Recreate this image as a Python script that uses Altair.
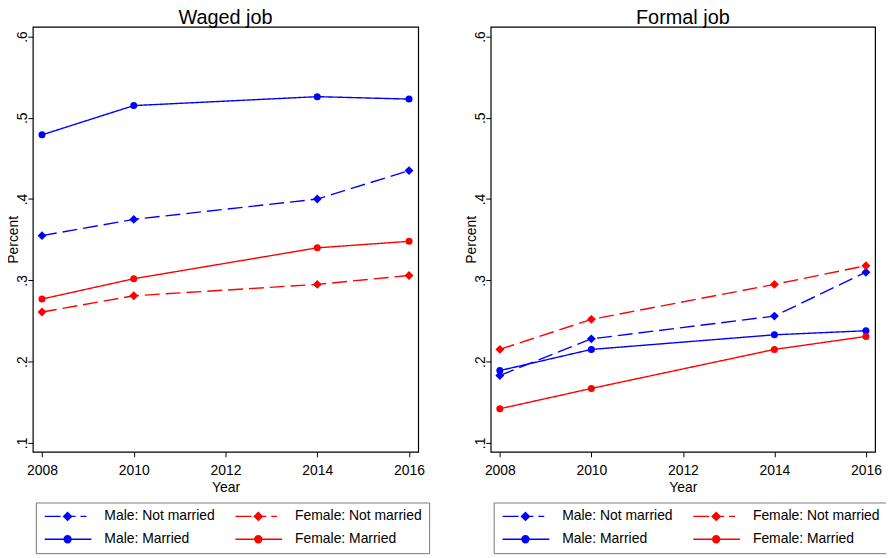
import altair as alt
import pandas as pd

# ---------------- data ----------------
years = [2008, 2010, 2014, 2016]
series_names = ["Male: Not married", "Female: Not married", "Male: Married", "Female: Married"]
series_status = ["Not married", "Not married", "Married", "Married"]

waged_male_not_married = [0.355, 0.375, 0.400, 0.435]
waged_female_not_married = [0.261, 0.281, 0.295, 0.306]
waged_male_married = [0.479, 0.515, 0.526, 0.523]
waged_female_married = [0.277, 0.302, 0.340, 0.348]

formal_male_not_married = [0.183, 0.228, 0.256, 0.310]
formal_female_not_married = [0.215, 0.252, 0.295, 0.318]
formal_male_married = [0.189, 0.215, 0.233, 0.238]
formal_female_married = [0.142, 0.167, 0.215, 0.231]

x_ticks = [2008, 2010, 2012, 2014, 2016]
y_ticks = [0.1, 0.2, 0.3, 0.4, 0.5, 0.6]

panel_titles = ["Waged job", "Formal job"]

# plot colours follow the alphabetical order of the series names
plot_colors = ["#ff0000", "#ff0000", "#0000ff", "#0000ff"]

# legend entries (legend grid fills column by column)
legend_order = ["Male: Not married", "Male: Married", "Female: Not married", "Female: Married"]
legend_colors = ["#0000ff", "#0000ff", "#ff0000", "#ff0000"]
# legend symbols: line + marker drawn as one path (1 unit = 5px with symbolSize 100)
dashed_diamond = "M-1,0L2.2,0M2.8,0L3.6,-0.8L4.4,0L3.6,0.8ZM4.4,0L5.2,0M6.2,0L7.4,0"
solid_circle = "M-1,0L8.4,0M2.9,0A0.7,0.7,0,1,0,4.3,0A0.7,0.7,0,1,0,2.9,0Z"
legend_paths = [dashed_diamond, solid_circle, dashed_diamond, solid_circle]


def make_df(values_list):
    rows = []
    for name, status, vals in zip(series_names, series_status, values_list):
        for yr, v in zip(years, vals):
            rows.append({"series": name, "entry": name, "status": status,
                         "year": yr, "value": v})
    return pd.DataFrame(rows)


waged_df = make_df([waged_male_not_married, waged_female_not_married,
                    waged_male_married, waged_female_married])
formal_df = make_df([formal_male_not_married, formal_female_not_married,
                     formal_male_married, formal_female_married])

FONT = "Liberation Sans"
PLOT_H = 428


def panel(df, title, w):
    base = alt.Chart(df)
    x = alt.X("year:Q",
              scale=alt.Scale(domain=[2007.8, 2016.2], nice=False, zero=False),
              axis=alt.Axis(values=x_ticks, format="d", title="Year",
                            labelPadding=7, titlePadding=3))
    y = alt.Y("value:Q",
              scale=alt.Scale(domain=[0.089, 0.612], nice=False, zero=False),
              axis=alt.Axis(values=y_ticks, title="Percent",
                            labelExpr="substring(format(datum.value, '.1f'), 1)",
                            labelAngle=270, labelAlign="center", labelBaseline="bottom",
                            labelPadding=-2, titlePadding=-5))
    color = alt.Color("series:N", scale=alt.Scale(range=plot_colors), legend=None)
    dash = alt.StrokeDash("status:N",
                          scale=alt.Scale(domain=["Not married", "Married"],
                                          range=[[15, 6], [1, 0]]),
                          legend=None)
    lines = base.mark_line(strokeWidth=1.4).encode(x=x, y=y, color=color,
                                                   strokeDash=dash, detail="series:N")
    diamonds = base.transform_filter(alt.datum.status == "Not married").mark_point(
        shape="diamond", filled=True, size=80, opacity=1).encode(x=x, y=y, color=color)
    circles = base.transform_filter(alt.datum.status == "Married").mark_point(
        shape="circle", filled=True, size=50, opacity=1).encode(x=x, y=y, color=color)

    leg = alt.Legend(title=None, orient="none", legendX=3, legendY=479, columns=2,
                     columnPadding=17, rowPadding=9, padding=7,
                     strokeColor="#7a7a7a", fillColor="white",
                     labelFont=FONT, labelFontSize=14, labelColor="black",
                     labelOffset=48, symbolSize=100, symbolStrokeWidth=1.4,
                     symbolOpacity=1, labelLimit=300)
    legend_layer = base.mark_point(size=0, filled=True).encode(
        x=x, y=y,
        fill=alt.Fill("entry:N", scale=alt.Scale(domain=legend_order, range=legend_colors), legend=leg),
        stroke=alt.Stroke("entry:N", scale=alt.Scale(domain=legend_order, range=legend_colors), legend=leg),
        shape=alt.Shape("entry:N", scale=alt.Scale(domain=legend_order, range=legend_paths), legend=leg),
    )
    return alt.layer(lines, diamonds, circles, legend_layer).properties(
        width=w, height=PLOT_H,
        title=alt.TitleParams(title, font=FONT, fontSize=20, fontWeight="normal",
                              color="black", offset=-1),
    )


left = panel(waged_df, panel_titles[0], 388)
right = panel(formal_df, panel_titles[1], 387)

chart = alt.hconcat(left, right, spacing=73, bounds="flush").resolve_scale(
    color="independent", fill="independent", stroke="independent",
    shape="independent", strokeDash="independent"
).resolve_legend(
    fill="independent", stroke="independent", shape="independent"
).properties(
    padding={"left": -2, "top": -3, "right": -3, "bottom": 0},
    background="white",
).configure_view(
    stroke="black", strokeWidth=1.2
).configure_axis(
    domain=False, grid=False, ticks=True, tickColor="black", tickSize=5,
    labelFont=FONT, labelFontSize=14, labelColor="black",
    titleFont=FONT, titleFontSize=14, titleFontWeight="normal", titleColor="black",
)

chart.save("out.html", embed_options={"renderer": "svg", "actions": False})
